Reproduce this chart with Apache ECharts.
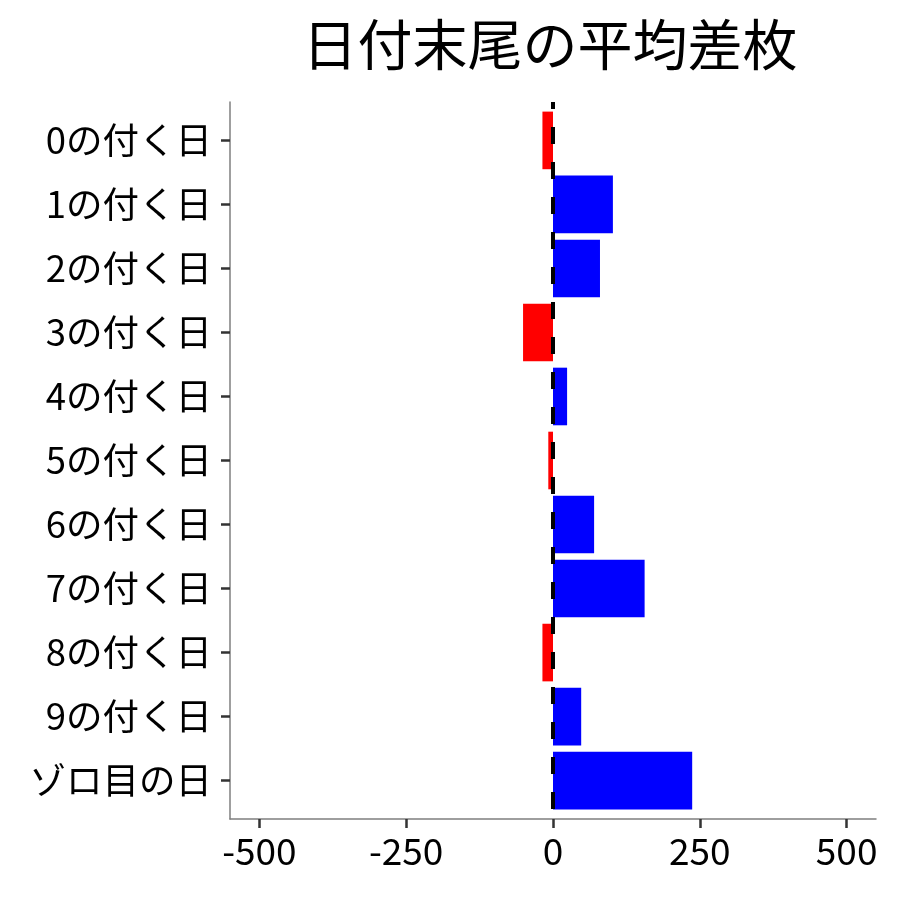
<!DOCTYPE html>
<html>
<head>
<meta charset="utf-8">
<script src="https://cdn.jsdelivr.net/npm/echarts@6/dist/echarts.min.js"></script>
<style>
html,body{margin:0;padding:0;background:#fff;}
#chart{width:900px;height:900px;}
</style>
</head>
<body>
<div id="chart"></div>
<script>
const titleText = '日付末尾の平均差枚';
const categories = ['0の付く日','1の付く日','2の付く日','3の付く日','4の付く日','5の付く日','6の付く日','7の付く日','8の付く日','9の付く日','ゾロ目の日'];
const values = [-18, 102, 80, -51, 24, -8, 70, 156, -18, 48, 237];
const xTicks = [-500, -250, 0, 250, 500];
const catIndex = categories.map((c, i) => i);

const font = '"Noto Sans CJK JP", "Noto Sans", sans-serif';
const chart = echarts.init(document.getElementById('chart'), null, {renderer: 'canvas'});

const barData = values.map((v, i) => [v, i]);

chart.setOption({
  backgroundColor: '#ffffff',
  animation: false,
  title: {
    text: titleText,
    left: 545,
    textAlign: 'center',
    top: 12,
    textStyle: {fontFamily: font, fontSize: 55, fontWeight: 'normal', color: '#000'}
  },
  grid: {left: 230, right: 24, top: 102, bottom: 81, containLabel: false},
  xAxis: {
    type: 'value',
    min: -550, max: 550,
    axisLine: {show: true, onZero: false, lineStyle: {color: '#7f7f7f', width: 1.5}},
    axisTick: {show: true, length: 9, customValues: xTicks, lineStyle: {color: '#333', width: 2.5}},
    axisLabel: {customValues: xTicks, margin: 13, fontFamily: font, fontSize: 37, color: '#000'},
    splitLine: {show: false}
  },
  yAxis: {
    type: 'value',
    min: -0.6, max: 10.6,
    inverse: true,
    axisLine: {show: true, onZero: false, lineStyle: {color: '#7f7f7f', width: 1.5}},
    axisTick: {show: true, length: 9, customValues: catIndex, lineStyle: {color: '#333', width: 2.5}},
    axisLabel: {customValues: catIndex, margin: 18, fontFamily: font, fontSize: 36.5, color: '#000',
      formatter: v => categories[Math.round(v)]},
    splitLine: {show: false}
  },
  series: [
    {
      type: 'custom',
      data: barData,
      encode: {x: 0, y: 1},
      renderItem: function (params, api) {
        const v = api.value(0);
        const idx = api.value(1);
        const p0 = api.coord([0, idx]);
        const p1 = api.coord([v, idx]);
        const h = api.size([0, 0.9])[1];
        const x = Math.min(p0[0], p1[0]);
        const w = Math.abs(p1[0] - p0[0]);
        return {
          type: 'rect',
          shape: {x: x, y: p0[1] - h / 2, width: w, height: h},
          style: {fill: v < 0 ? '#ff0000' : '#0000ff'}
        };
      },
      z: 2
    },
    {
      type: 'line',
      data: [[0, -0.6], [0, 10.6]],
      symbol: 'none',
      lineStyle: {color: '#000', width: 4, type: [17, 18], dashOffset: 10},
      z: 5
    }
  ]
});
</script>
</body>
</html>
